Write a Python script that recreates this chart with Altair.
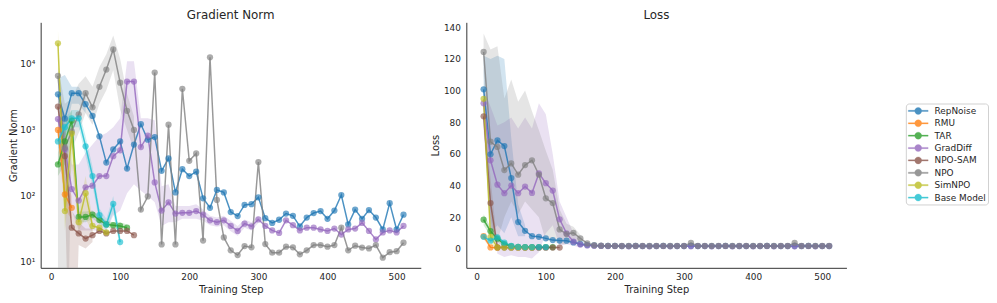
import altair as alt
import pandas as pd

series = ["RepNoise", "RMU", "TAR", "GradDiff", "NPO-SAM", "NPO", "SimNPO", "Base Model"]
colors = ["#1f77b4", "#ff7f0e", "#2ca02c", "#9467bd", "#8c564b", "#7f7f7f", "#bcbd22", "#17becf"]

steps_all = list(range(10, 520, 10))

# ---------------- Gradient norm (means) ----------------
grad_repnoise = [3470, 1480, 3600, 3600, 2450, 1630, 800, 320, 505, 670, 260, 600, 1220, 710, 780,
                 240, 370, 113, 254, 200, 233, 92, 66, 123, 113, 57, 49.5, 73, 75, 95, 46, 39, 43.5,
                 54, 50, 34.6, 47, 55, 59, 45, 60, 103, 37, 62, 45, 61, 47, 31, 77.6, 31, 52]
grad_rmu = [1000, 105, 66]
grad_tar = [300, 670, 1380, 48, 48, 52, 43, 37, 36, 35, 33]
grad_graddiff = [1460, 505, 127, 85, 135, 143, 200, 200, 400, 490, 5400, 5400, 550, 820, 160, 60, 80,
                 54, 55.5, 55.5, 59, 52, 42.6, 40, 42.6, 35, 29.5, 38, 34.6, 44, 35, 30, 27.5, 42.6,
                 36, 30, 33, 33, 31, 29.5, 32, 26, 31, 32, 39, 29.5, 21.9, 28, 30, 28, 35]
grad_nposam = [2260, 400, 33, 27, 22.6, 25.4, 29.5, 27, 29.5, 29.5, 29.5, 25.4]
grad_npo = [6600, 535, 950, 1720, 3600, 2200, 4500, 8200, 16600, 5200, 1950, 1000, 62, 98, 7400, 18.4,
            1200, 18.4, 4200, 340, 440, 21, 12600, 87, 23.5, 15, 12.7, 17.4, 16.6, 326, 18.6, 13.8,
            13.8, 17, 16.6, 13, 15, 18, 18, 17, 18, 33, 15, 17.6, 16.5, 16, 18, 11.6, 14, 14.5, 19.5]
grad_simnpo = [20500, 59, 880, 40, 110, 35, 33, 28]
grad_base = [670, 1100, 1500, 1500, 565, 200, 51, 37, 76, 20]

# ---------------- Loss (means) ----------------
loss_repnoise = [100.8, 59.8, 68.5, 65.0, 44.8, 17.0, 11.5, 8.1, 7.7, 6.7, 5.6, 5.3, 5.2, 4.1, 3.2, 2.5,
                 2.2, 2.0, 1.9, 1.9,
                 1.8, 1.8, 1.9, 1.8, 1.8, 1.8, 1.9, 1.8, 1.8, 1.8,
                 1.9, 1.8, 1.8, 1.8, 1.8, 1.9, 1.8, 1.8, 1.8, 1.8,
                 1.8, 1.9, 1.8, 1.8, 1.8, 1.8, 1.8, 1.9, 1.8, 1.8, 1.8]
loss_rmu = [8.1, 1.0, 0.8]
loss_tar = [18.5, 11.2, 6.5, 3.0, 1.8, 1.3, 1.2, 1.1, 1.1, 1.1, 1.1]
loss_graddiff = [92.0, 56.0, 40.6, 35.2, 40.0, 35.2, 39.4, 35.4, 47.7, 41.5, 36.9, 18.7, 9.8, 4.6, 2.8,
                 2.2, 2.0, 1.9, 1.8, 1.8,
                 1.8, 1.7, 1.8, 1.8, 1.7, 1.8, 1.8, 1.7, 1.8, 1.8,
                 1.7, 1.8, 1.8, 1.7, 1.8, 1.8, 1.7, 1.8, 1.8, 1.7,
                 1.8, 1.8, 1.7, 1.8, 1.8, 1.7, 1.8, 1.8, 1.7, 1.8, 1.8]
loss_nposam = [83.75, 29.0, 1.0, 0.9, 0.8, 0.8, 0.8, 0.8, 0.8, 0.8, 0.9, 0.9]
loss_npo = [124.4, 67.7, 64.4, 49.8, 54.0, 46.9, 53.0, 56.0, 46.9, 32.0, 29.0, 12.3, 9.4, 10.2, 6.7,
            3.5, 2.4, 2.1, 2.0, 1.9,
            1.9, 1.9, 1.9, 1.9, 1.9, 1.9, 1.9, 1.9, 1.9, 1.9,
            3.8, 1.9, 1.9, 1.9, 1.9, 1.9, 1.9, 1.9, 1.9, 1.9,
            1.9, 1.9, 1.9, 1.9, 1.9, 3.8, 1.9, 1.9, 1.9, 1.9, 1.9]
loss_simnpo = [94.8, 7.7, 1.0, 0.9, 0.9, 0.9, 0.9, 0.9]
loss_base = [7.7, 5.2, 7.3, 4.0, 1.9, 1.3, 1.2, 1.2, 1.2, 1.2]

# ---------------- Gradient norm bands (lower / upper), starting at step 10 ----------------
gband_repnoise_lo = [2000, 800, 2500, 2500, 1800]
gband_repnoise_hi = [6000, 6800, 4500, 4500, 3100]
gband_rmu_lo = [700, 60, 45]
gband_rmu_hi = [1400, 200, 100]
gband_tar_lo = [200, 300, 700, 40, 40, 45, 38, 33, 32, 31, 29]
gband_tar_hi = [450, 1200, 2000, 58, 58, 60, 50, 42, 40, 40, 37]
gband_graddiff_lo = [1000, 200, 60, 30, 30, 30, 30, 30, 50, 60, 110, 150, 120, 100, 80, 35, 40, 40, 45,
                     45, 45, 42, 36, 34, 36, 29, 25, 33, 30, 39]
gband_graddiff_hi = [2000, 1000, 300, 300, 450, 600, 800, 900, 1100, 1500, 11000, 11000, 1500, 1500,
                     1400, 140, 150, 70, 70, 70, 75, 62, 50, 47, 50, 42, 35, 44, 40, 50]
gband_nposam_lo = [1500, 100, 0.01, 18, 16, 20]
gband_nposam_hi = [3000, 1500, 60, 40, 32, 32]
gband_npo_lo = [0.01, 0.01, 500, 900, 1800, 1200, 2500, 4000, 8000, 2000, 1000, 500]
gband_npo_hi = [9000, 2500, 3000, 5000, 6500, 4500, 9000, 14000, 27000, 12000, 3500, 1600]
gband_simnpo_lo = [15000, 30, 300, 30, 45, 28]
gband_simnpo_hi = [33000, 120, 1500, 60, 200, 45]
gband_base_lo = [500, 800, 1100, 1100, 400, 140, 40, 30, 55, 16]
gband_base_hi = [900, 1500, 2000, 2000, 800, 280, 65, 45, 100, 25]

# ---------------- Loss bands ----------------
lband_repnoise_lo = [80, 10, 15, 10, 20, 8, 8]
lband_repnoise_hi = [122, 120, 122, 120, 70, 28, 15]
lband_rmu_lo = [6, 0.5, 0.5]
lband_rmu_hi = [10, 1.5, 1.0]
lband_tar_lo = [15, 8, 4, 2]
lband_tar_hi = [22, 14, 9, 4]
lband_graddiff_lo = [85, 20, -3, -5, -4, -5, -5, -6, -2, 10, 15, 2, 3, 2, 1]
lband_graddiff_hi = [100, 90, 78, 80, 83, 76, 83, 76, 92, 85, 60, 30, 20, 10, 5]
lband_nposam_lo = [75, 15, 0]
lband_nposam_hi = [92, 45, 2]
lband_npo_lo = [112, 10, 5, 20, 30, 22, 30, 25, 20, 5, 5, 3, 3, 5, 4]
lband_npo_hi = [136, 126, 128, 95, 107, 93, 100, 87, 75, 62, 50, 25, 16, 14, 9]
lband_simnpo_lo = [90, 3, 0]
lband_simnpo_hi = [99, 12, 2]
lband_base_lo = [6, 4, 5, 3, 1.5]
lband_base_hi = [9, 6.5, 9, 5, 2.5]

means = {
    "RepNoise": (grad_repnoise, loss_repnoise),
    "RMU": (grad_rmu, loss_rmu),
    "TAR": (grad_tar, loss_tar),
    "GradDiff": (grad_graddiff, loss_graddiff),
    "NPO-SAM": (grad_nposam, loss_nposam),
    "NPO": (grad_npo, loss_npo),
    "SimNPO": (grad_simnpo, loss_simnpo),
    "Base Model": (grad_base, loss_base),
}
gbands = {
    "RepNoise": (gband_repnoise_lo, gband_repnoise_hi),
    "RMU": (gband_rmu_lo, gband_rmu_hi),
    "TAR": (gband_tar_lo, gband_tar_hi),
    "GradDiff": (gband_graddiff_lo, gband_graddiff_hi),
    "NPO-SAM": (gband_nposam_lo, gband_nposam_hi),
    "NPO": (gband_npo_lo, gband_npo_hi),
    "SimNPO": (gband_simnpo_lo, gband_simnpo_hi),
    "Base Model": (gband_base_lo, gband_base_hi),
}
lbands = {
    "RepNoise": (lband_repnoise_lo, lband_repnoise_hi),
    "RMU": (lband_rmu_lo, lband_rmu_hi),
    "TAR": (lband_tar_lo, lband_tar_hi),
    "GradDiff": (lband_graddiff_lo, lband_graddiff_hi),
    "NPO-SAM": (lband_nposam_lo, lband_nposam_hi),
    "NPO": (lband_npo_lo, lband_npo_hi),
    "SimNPO": (lband_simnpo_lo, lband_simnpo_hi),
    "Base Model": (lband_base_lo, lband_base_hi),
}

rows = []
for name in series:
    g, l = means[name]
    for st, gv, lv in zip(steps_all, g, l):
        rows.append({"series": name, "step": st, "grad": gv, "loss": lv})
df = pd.DataFrame(rows)


def band_frame(bands):
    out = []
    for name in series:
        lo, hi = bands[name]
        for st, a, b in zip(steps_all, lo, hi):
            out.append({"series": name, "step": st, "lo": a, "hi": b})
    return pd.DataFrame(out)


gband_df = band_frame(gbands)
lband_df = band_frame(lbands)

FONT = "DejaVu Sans"
TXT = "#262626"

cscale = alt.Scale(domain=series, range=colors)
# line segment with a dot, drawn wider than the nominal symbol box
legend_path = "M-2,-0.12H2V0.12H-2Z M0.7,0A0.7,0.7 0 1,1 -0.7,0A0.7,0.7 0 1,1 0.7,0Z"
legend = alt.Legend(
    title=None, orient="none", legendX=874, legendY=82,
    symbolType=legend_path, symbolSize=100, symbolStrokeWidth=0.3, symbolOpacity=0.8,
    symbolOffset=5,
    labelFont=FONT, labelFontSize=9, labelColor=TXT, labelOffset=11,
    fillColor="white", strokeColor="#d0d0d0", cornerRadius=3, padding=2, rowPadding=1.5,
)
color = alt.Color("series:N", scale=cscale, legend=legend)

x_scale = alt.Scale(domain=[-15, 535], nice=False, zero=False)
x_axis = alt.Axis(values=[0, 100, 200, 300, 400, 500], title="Training Step",
                  labelPadding=5, titlePadding=3)


def panel(metric, band_df, yscale, yaxis, title):
    xenc = alt.X("step:Q", scale=x_scale, axis=x_axis)
    area = alt.Chart(band_df).mark_area(opacity=0.2, clip=True).encode(
        x=xenc,
        y=alt.Y("lo:Q", scale=yscale, axis=yaxis),
        y2="hi:Q",
        color=color,
    )
    line = alt.Chart(df).mark_line(strokeWidth=1.5, opacity=0.8, clip=True).encode(
        x=xenc,
        y=alt.Y(f"{metric}:Q", scale=yscale, axis=yaxis),
        color=color,
    )
    pts = alt.Chart(df).mark_circle(size=40, opacity=0.65, clip=True).encode(
        x=xenc,
        y=alt.Y(f"{metric}:Q", scale=yscale, axis=yaxis),
        color=color,
    )
    return alt.layer(area, line, pts).properties(
        width=384, height=248,
        title=alt.TitleParams(title, font=FONT, fontSize=12, fontWeight="normal", color=TXT, offset=0),
    )


left = panel(
    "grad", gband_df,
    alt.Scale(type="log", domain=[8.13, 42700], nice=False),
    alt.Axis(values=[10, 100, 1000, 10000], title="Gradient Norm", labelPadding=6, titlePadding=1,
             labelExpr="datum.value == 10 ? '10¹' : datum.value == 100 ? '10²' : datum.value == 1000 ? '10³' : '10⁴'"),
    "Gradient Norm",
)
right = panel(
    "loss", lband_df,
    alt.Scale(domain=[-11.9, 143.1], nice=False, zero=False),
    alt.Axis(values=[0, 20, 40, 60, 80, 100, 120, 140], title="Loss", labelPadding=6, titlePadding=3),
    "Loss",
)

chart = alt.hconcat(left, right, spacing=9).properties(
    padding={"left": 0, "top": 0, "right": 0, "bottom": 0}
).configure_axis(
    grid=False, ticks=False, domainColor="#333333", domainWidth=1,
    labelFont=FONT, labelFontSize=9, labelColor=TXT,
    titleFont=FONT, titleFontSize=10, titleFontWeight="normal", titleColor=TXT,
).configure_view(stroke=None)

chart.save("out.html", embed_options={"renderer": "svg", "actions": False})
